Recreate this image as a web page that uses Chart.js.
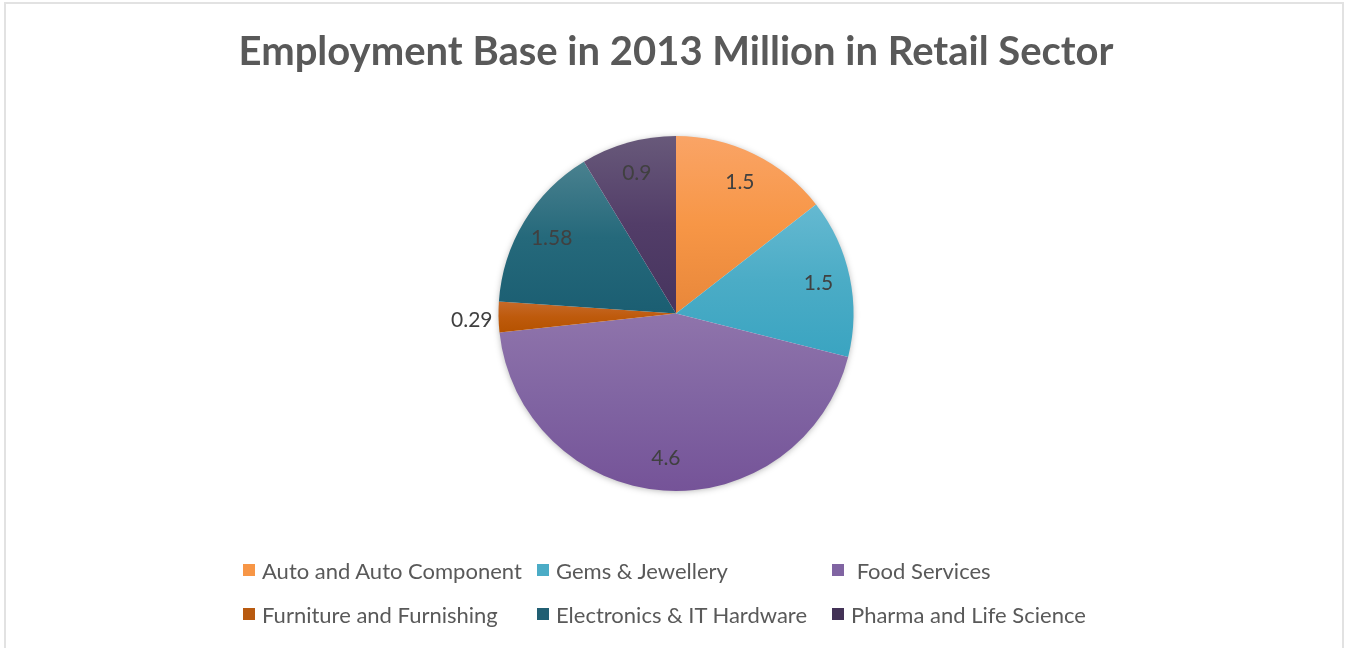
<!DOCTYPE html>
<html>
<head>
<meta charset="utf-8">
<script src="https://cdn.jsdelivr.net/npm/chart.js@4.4.1/dist/chart.umd.min.js"></script>
<style>
  html, body { margin: 0; padding: 0; background: #fff; }
  #wrap { position: relative; width: 1348px; height: 648px; overflow: hidden; }
  #frame { position: absolute; left: 4px; top: 2px; width: 1340px; height: 700px; border: 2px solid #e2e2e2; box-sizing: border-box; }
  #chart { position: absolute; left: 0; top: 0; }
  #legend { position: absolute; left: 243px; top: 558px; display: grid; grid-template-columns: 294px 295px 300px; row-gap: 20px; }
  .item { display: flex; align-items: center; height: 24px; font-family: Lato, sans-serif; font-size: 22px; color: #595959; white-space: pre; }
  .box { width: 12px; height: 12px; margin-right: 7px; flex: none; }
</style>
</head>
<body>
<div id="wrap">
  <div id="frame"></div>
  <canvas id="chart" width="1348" height="648"></canvas>
  <div id="legend"></div>
</div>
<script>
// Employment base 2013, million people
const categories = ["Auto and Auto Component", "Gems & Jewellery", " Food Services", "Furniture and Furnishing", "Electronics & IT Hardware", "Pharma and Life Science"];
const employment = [1.5, 1.5, 4.6, 0.29, 1.58, 0.9];

// slice colours: light top / base / dark bottom of each gradient
const lightColors = ["#faa466", "#65b9d1", "#8f74ab", "#c66a2a", "#4a818f", "#68597a"];
const baseColors = ["#f79646", "#4bacc6", "#8064a2", "#be5a0c", "#25697b", "#523d68"];
const darkColors = ["#e8873a", "#3aa4c1", "#755398", "#b55200", "#1b5e72", "#46345e"];
const legendColors = ["#f79646", "#4bacc6", "#8064a2", "#b85a10", "#215f73", "#433256"];

const total = employment.reduce((a, b) => a + b, 0);

// vertical gradient over the bounding box of one slice
function sliceFill(context) {
  const i = context.dataIndex;
  const chart = context.chart;
  const area = chart.chartArea;
  if (!area) return baseColors[i];
  const cx = (area.left + area.right) / 2;
  const cy = (area.top + area.bottom) / 2;
  const r = Math.min(area.width, area.height) / 2;
  const before = employment.slice(0, i).reduce((a, b) => a + b, 0);
  const start = before / total * Math.PI * 2 - Math.PI / 2;
  const end = start + employment[i] / total * Math.PI * 2;
  const ys = [cy, cy + r * Math.sin(start), cy + r * Math.sin(end)];
  [-Math.PI / 2, Math.PI / 2, Math.PI * 1.5].forEach(a => {
    if (a >= start && a <= end) ys.push(cy + r * Math.sin(a));
  });
  const top = Math.min(...ys), bottom = Math.max(...ys);
  const g = chart.ctx.createLinearGradient(0, top, 0, bottom);
  g.addColorStop(0, lightColors[i]);
  g.addColorStop(0.5, baseColors[i]);
  g.addColorStop(1, darkColors[i]);
  return g;
}

// soft shadow under the pie
const pieShadow = {
  id: "pieShadow",
  beforeDatasetsDraw(chart) {
    const arc = chart.getDatasetMeta(0).data[0];
    if (!arc) return;
    const ctx = chart.ctx;
    ctx.save();
    ctx.shadowColor = "rgba(0,0,0,0.35)";
    ctx.shadowBlur = 7;
    ctx.shadowOffsetY = 1;
    ctx.fillStyle = "#fff";
    ctx.beginPath();
    ctx.arc(arc.x, arc.y, arc.outerRadius - 1, 0, Math.PI * 2);
    ctx.fill();
    ctx.restore();
  }
};

// value labels, small slices go outside
const valueLabels = {
  id: "valueLabels",
  afterDatasetsDraw(chart) {
    const ctx = chart.ctx;
    ctx.save();
    ctx.font = "21px Lato, sans-serif";
    ctx.fillStyle = "#404040";
    ctx.textBaseline = "middle";
    chart.getDatasetMeta(0).data.forEach((arc, i) => {
      const p = arc.getProps(["x", "y", "startAngle", "endAngle", "outerRadius"], true);
      const mid = (p.startAngle + p.endAngle) / 2;
      const val = employment[i];
      if (val / total < 0.05) {
        const d = p.outerRadius + 6;
        ctx.textAlign = Math.cos(mid) < 0 ? "right" : "left";
        ctx.fillText(String(val), p.x + Math.cos(mid) * d, p.y + Math.sin(mid) * d + 3);
      } else {
        const d = p.outerRadius * 0.82;
        ctx.textAlign = "center";
        ctx.fillText(String(val), p.x + Math.cos(mid) * d, p.y + Math.sin(mid) * d);
      }
    });
    ctx.restore();
  }
};

new Chart(document.getElementById("chart"), {
  type: "pie",
  data: {
    labels: categories,
    datasets: [{
      data: employment,
      backgroundColor: sliceFill,
      borderWidth: 0
    }]
  },
  options: {
    responsive: false,
    animation: false,
    layout: { padding: { left: 4, bottom: 157 } },
    plugins: {
      legend: { display: false },
      tooltip: { enabled: false },
      title: {
        display: true,
        text: "Employment Base in 2013 Million in Retail Sector",
        color: "#595959",
        font: { family: "Lato", size: 40, weight: "bold" },
        padding: { top: 28, bottom: 60 }
      }
    }
  },
  plugins: [pieShadow, valueLabels]
});

// legend in three columns
const legend = document.getElementById("legend");
categories.forEach((name, i) => {
  const item = document.createElement("div");
  item.className = "item";
  item.innerHTML = `<span class="box" style="background:${legendColors[i]}"></span><span>${name.replace(/&/g, "&amp;")}</span>`;
  legend.appendChild(item);
});
</script>
</body>
</html>
